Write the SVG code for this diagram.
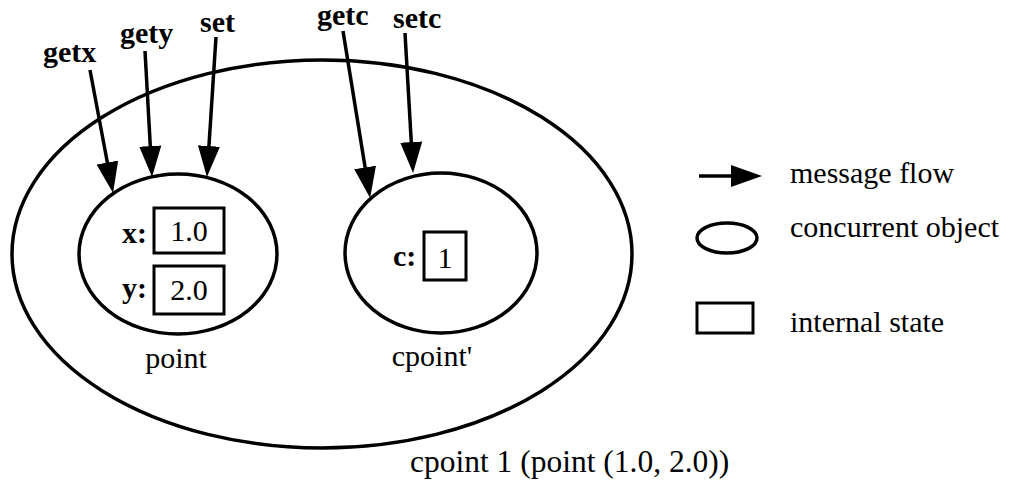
<svg xmlns="http://www.w3.org/2000/svg" width="1015" height="483" viewBox="0 0 1015 483">
  <style>
    .obj { fill: none; stroke: #000; stroke-width: 3.5; }
    .state { fill: none; stroke: #000; stroke-width: 3; }
    .flow { fill: none; stroke: #000; stroke-width: 3.5; marker-end: url(#head); }
    text { font-family: "Liberation Serif", "Times New Roman", serif; font-size: 30px; fill: #000; }
    .bold { font-weight: bold; }
    .mid { text-anchor: middle; }
  </style>
  <defs>
    <!-- filled arrowhead; tip sits 15px beyond the end of its line -->
    <marker id="head" markerUnits="userSpaceOnUse" markerWidth="32" markerHeight="24" viewBox="0 -12 32 24" refX="16" refY="0" orient="auto">
      <path d="M0,-11 L31,0 L0,11 Z" fill="#000"/>
    </marker>
  </defs>

  <!-- composite object -->
  <g id="cpoint1">
    <ellipse class="obj" cx="322" cy="254" rx="310" ry="194"/>
    <text x="410" y="472" style="font-size:31.5px">cpoint 1 (point (1.0, 2.0))</text>
  </g>

  <!-- point object with its state -->
  <g id="point">
    <ellipse class="obj" cx="178" cy="254" rx="99" ry="80"/>
    <text class="bold" x="122" y="243">x:</text>
    <rect class="state" x="154" y="208" width="70" height="45"/>
    <text class="mid" x="189" y="241">1.0</text>
    <text class="bold" x="122" y="298">y:</text>
    <rect class="state" x="154" y="266" width="70" height="48"/>
    <text class="mid" x="189" y="300">2.0</text>
    <text class="mid" x="176" y="368">point</text>
  </g>

  <!-- cpoint' object with its state -->
  <g id="cpoint-prime">
    <ellipse class="obj" cx="441" cy="253" rx="96" ry="80"/>
    <text class="bold" x="393" y="266">c:</text>
    <rect class="state" x="424" y="232" width="42" height="48"/>
    <text class="mid" x="445" y="268">1</text>
    <text class="mid" x="432" y="366">cpoint'</text>
  </g>

  <!-- message labels -->
  <g id="messages">
    <text class="bold" x="43" y="62">getx</text>
    <text class="bold" x="120" y="43">gety</text>
    <text class="bold" x="200" y="32">set</text>
    <text class="bold" x="317" y="25">getc</text>
    <text class="bold" x="393" y="28">setc</text>
  </g>

  <!-- message flows -->
  <g id="connectors">
    <line class="flow" x1="90" y1="70" x2="110.3" y2="178.3"/>
    <line class="flow" x1="145" y1="51" x2="151.2" y2="162"/>
    <line class="flow" x1="216" y1="37" x2="207.9" y2="162"/>
    <line class="flow" x1="343" y1="31" x2="367.7" y2="183.2"/>
    <line class="flow" x1="405" y1="33" x2="412.2" y2="158"/>
  </g>

  <!-- legend -->
  <g id="legend">
    <line class="flow" x1="699" y1="176" x2="747" y2="176"/>
    <text x="790" y="183">message flow</text>
    <ellipse class="obj" cx="727" cy="238" rx="30" ry="15"/>
    <text x="790" y="237">concurrent object</text>
    <rect class="state" x="697" y="303" width="56" height="30"/>
    <text x="790" y="332">internal state</text>
  </g>
</svg>
